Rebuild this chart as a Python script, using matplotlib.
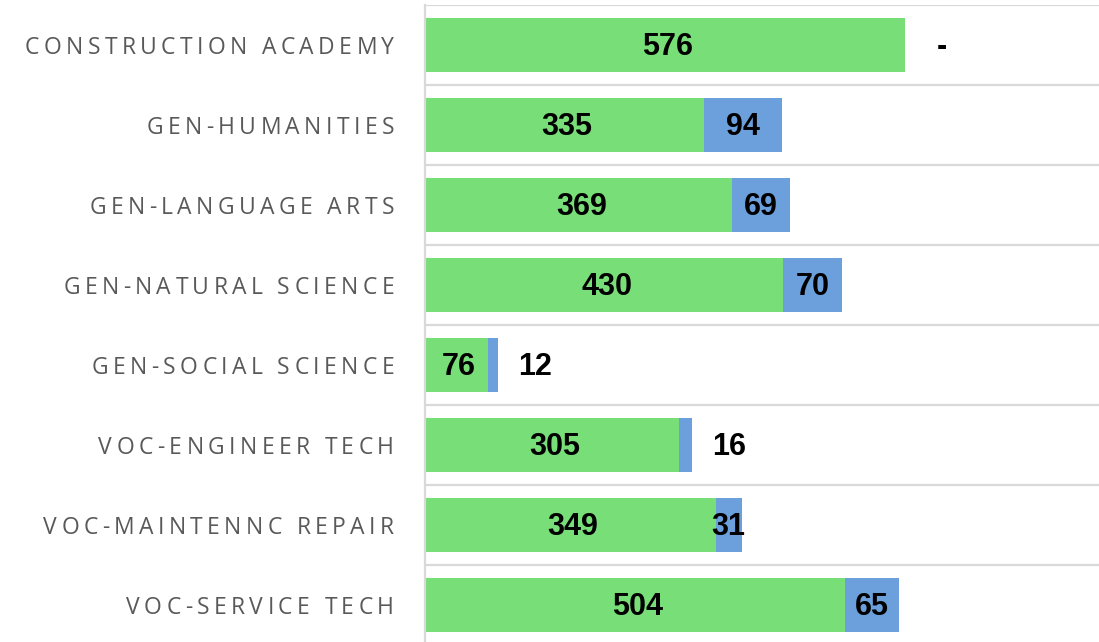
import matplotlib
matplotlib.use("Agg")
import matplotlib.pyplot as plt
from matplotlib.font_manager import FontProperties, findfont, get_font

categories = ["CONSTRUCTION ACADEMY", "GEN-HUMANITIES", "GEN-LANGUAGE ARTS",
              "GEN-NATURAL SCIENCE", "GEN-SOCIAL SCIENCE", "VOC-ENGINEER TECH",
              "VOC-MAINTENNC REPAIR", "VOC-SERVICE TECH"]
green_vals = [576, 335, 369, 430, 76, 305, 349, 504]
blue_vals = [0, 94, 69, 70, 12, 16, 31, 65]

W, H = 1099, 642
GREEN = "#78DE78"
BLUE = "#6BA0DC"
GRID = "#D9D9D9"

fig = plt.figure(figsize=(W / 100, H / 100), dpi=100)
ax = fig.add_axes([425 / W, -3 / H, (W - 425) / W, 640 / H])

y = list(range(len(categories)))
ax.barh(y, green_vals, height=0.675, color=GREEN, zorder=2)
ax.barh(y, blue_vals, left=green_vals, height=0.675, color=BLUE, zorder=2)

ax.set_xlim(0, 809)
ax.set_ylim(len(categories) - 0.5, -0.5)
ax.set_xticks([])
ax.set_yticks([])
ax.set_yticks([k + 0.5 for k in range(-1, len(categories))], minor=True)
ax.tick_params(which="both", length=0)
ax.grid(True, which="minor", axis="y", color=GRID, lw=1.6, zorder=0)
for s in ["top", "right", "bottom"]:
    ax.spines[s].set_visible(False)
ax.spines["left"].set_color(GRID)
ax.spines["left"].set_linewidth(1.6)

# value labels
val_font = dict(family="Liberation Sans", weight="bold", fontsize=22, color="black")
for i in y:
    g, b = green_vals[i], blue_vals[i]
    yy = i + 0.03
    ax.text(g / 2 + 3, yy, str(g), ha="center", va="center", zorder=3, **val_font)
    if b >= 25:
        ax.text(g + b / 2, yy, str(b), ha="center", va="center", zorder=3, **val_font)
    else:
        txt = "-" if b == 0 else str(b)
        ax.text(g + b + 44, yy, txt, ha="center", va="center", zorder=3, **val_font)

# category labels with letter spacing, drawn char by char
fs = 16.5
fp = FontProperties(family="Open Sans", size=fs)
font = get_font(findfont(fp))
font.set_size(fs, 100)


def adv(c):
    gl = font.load_char(ord(c))
    return gl.linearHoriAdvance / 65536


# spacing chosen so the longest label spans about 369 px
first = [adv(c) for c in categories[0]]
track = (369 - sum(first)) / (len(categories[0]) - 1)
right_px = 394
for i, name in enumerate(categories):
    widths = [adv(c) for c in name]
    total = sum(widths) + track * (len(name) - 1)
    x = right_px - total
    ypix = 5 + 80 * i + 40
    for c, w in zip(name, widths):
        if c != " ":
            fig.text(x / W, 1 - ypix / H, c, ha="left", va="center_baseline",
                     fontproperties=fp, color="#595959")
        x += w + track

fig.savefig("out.png", dpi=100)
